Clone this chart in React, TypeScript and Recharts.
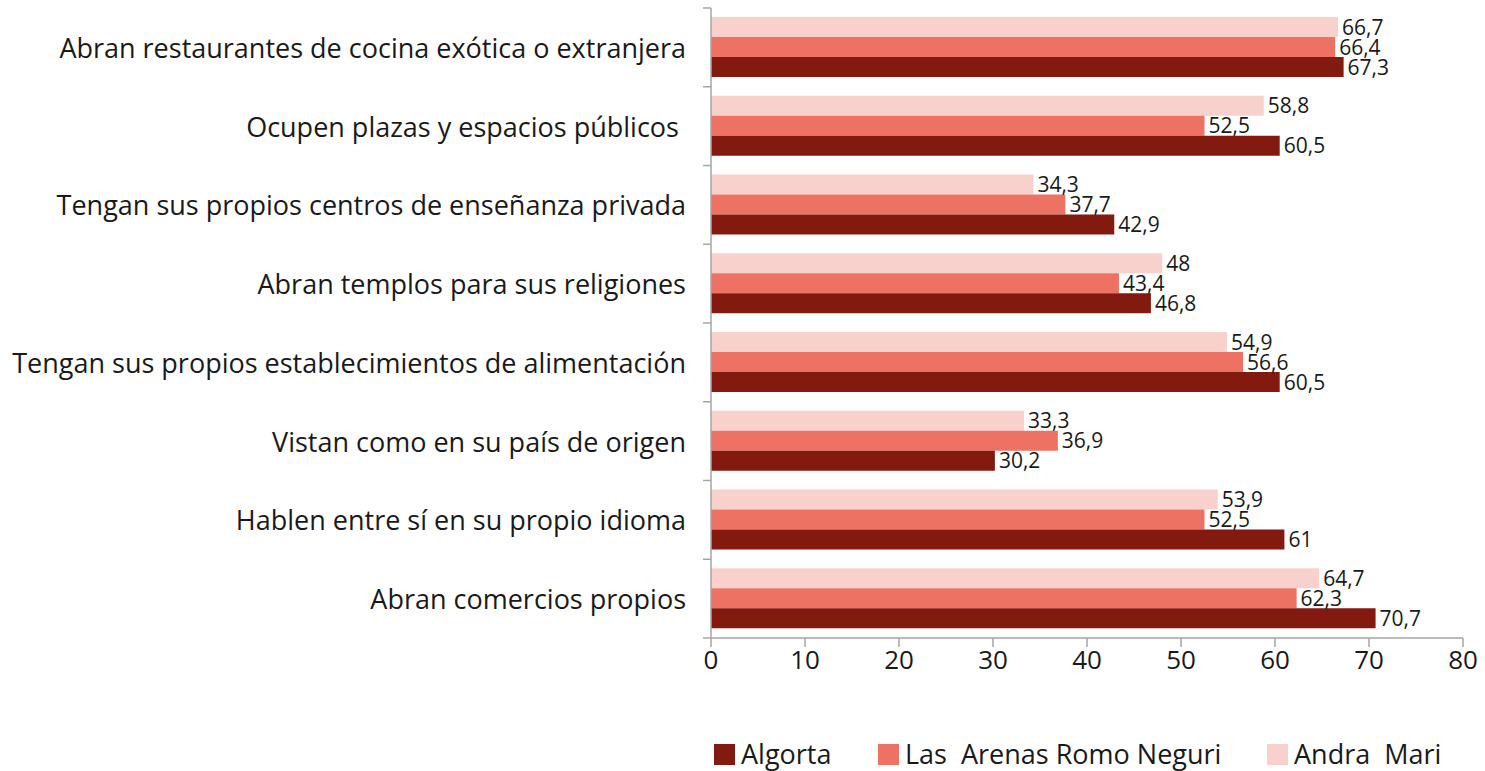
import React from "react";
import { BarChart, Bar, XAxis, YAxis, LabelList } from "recharts";

const categories = [
  "Abran restaurantes de cocina exótica o extranjera",
  "Ocupen plazas y espacios públicos\u00a0",
  "Tengan sus propios centros de enseñanza privada",
  "Abran templos para sus religiones",
  "Tengan sus propios establecimientos de alimentación",
  "Vistan como en su país de origen",
  "Hablen entre sí en su propio idioma",
  "Abran comercios propios",
];
const andraMari = [66.7, 58.8, 34.3, 48, 54.9, 33.3, 53.9, 64.7];
const lasArenas = [66.4, 52.5, 37.7, 43.4, 56.6, 36.9, 52.5, 62.3];
const algorta = [67.3, 60.5, 42.9, 46.8, 60.5, 30.2, 61, 70.7];
const xTicks = [0, 10, 20, 30, 40, 50, 60, 70, 80];

const seriesNames = {
  algorta: "Algorta",
  lasArenas: "Las  Arenas Romo Neguri",
  andraMari: "Andra  Mari",
};
const colors = {
  algorta: "#831a10",
  lasArenas: "#ee7263",
  andraMari: "#f8d0cc",
};

const data = categories.map((c, i) => ({
  name: c,
  andraMari: andraMari[i],
  lasArenas: lasArenas[i],
  algorta: algorta[i],
}));

const FONT = "'Open Sans', sans-serif";
const AXIS_COLOR = "#a6a6a6";
const Y_TICK_MARGIN = 25;
const Y_TICK_LEN = 8;

const fmt = (v: any) => String(v).replace(".", ",");

const YTick = (props: any) => {
  const { x, y, payload, index, visibleTicksCount } = props;
  const axisX = x + Y_TICK_MARGIN;
  const half = payload && payload.offset ? payload.offset : 39.375;
  const isLast = index === (visibleTicksCount ?? categories.length) - 1;
  return (
    <g>
      <line x1={axisX - Y_TICK_LEN} x2={axisX} y1={y - half} y2={y - half} stroke={AXIS_COLOR} strokeWidth={1.5} />
      {isLast && (
        <line x1={axisX - Y_TICK_LEN} x2={axisX} y1={y + half} y2={y + half} stroke={AXIS_COLOR} strokeWidth={1.5} />
      )}
      <text
        x={x}
        y={y}
        textAnchor="end"
        dominantBaseline="central"
        fontFamily={FONT}
        fontSize={27}
        fill="#1a1a1a"
        style={{ whiteSpace: "pre" }}
      >
        {payload.value}
      </text>
    </g>
  );
};

const legendOrder: (keyof typeof colors)[] = ["algorta", "lasArenas", "andraMari"];
const legendX = [714, 878, 1267];

export default function App() {
  return (
    <div style={{ position: "absolute", left: 0, top: 0, width: 1485, height: 771, background: "#fff" }}>
      <BarChart
        width={1485}
        height={771}
        data={data}
        layout="vertical"
        margin={{ top: 8, right: 22, bottom: 0, left: 0 }}
        barCategoryGap="11.5%"
        barGap={0}
      >
        <XAxis
          type="number"
          domain={[0, 80]}
          ticks={xTicks}
          interval={0}
          height={133}
          axisLine={{ stroke: AXIS_COLOR, strokeWidth: 1.5 }}
          tickLine={{ stroke: AXIS_COLOR, strokeWidth: 1.5 }}
          tickSize={9}
          tickMargin={4}
          tick={{ fontFamily: FONT, fontSize: 26, fill: "#1a1a1a" }}
        />
        <YAxis
          type="category"
          dataKey="name"
          width={711}
          interval={0}
          axisLine={{ stroke: AXIS_COLOR, strokeWidth: 1.5 }}
          tickLine={false}
          tickSize={0}
          tickMargin={Y_TICK_MARGIN}
          tick={<YTick />}
        />
        {(["andraMari", "lasArenas", "algorta"] as (keyof typeof colors)[]).map((k) => (
          <Bar key={k} dataKey={k} name={seriesNames[k]} fill={colors[k]} isAnimationActive={false}>
            <LabelList
              dataKey={k}
              position="right"
              offset={4}
              formatter={fmt}
              style={{ fontFamily: FONT, fontSize: 21, fill: "#1a1a1a" }}
            />
          </Bar>
        ))}
      </BarChart>
      {legendOrder.map((k, i) => (
        <div
          key={k}
          style={{
            position: "absolute",
            left: legendX[i],
            top: 736,
            display: "flex",
            alignItems: "center",
            fontFamily: FONT,
            fontSize: 27,
            lineHeight: "36px",
            color: "#1a1a1a",
            whiteSpace: "pre",
          }}
        >
          <span style={{ display: "inline-block", width: 21, height: 21, background: colors[k], marginRight: 6 }} />
          <span>{seriesNames[k]}</span>
        </div>
      ))}
    </div>
  );
}
